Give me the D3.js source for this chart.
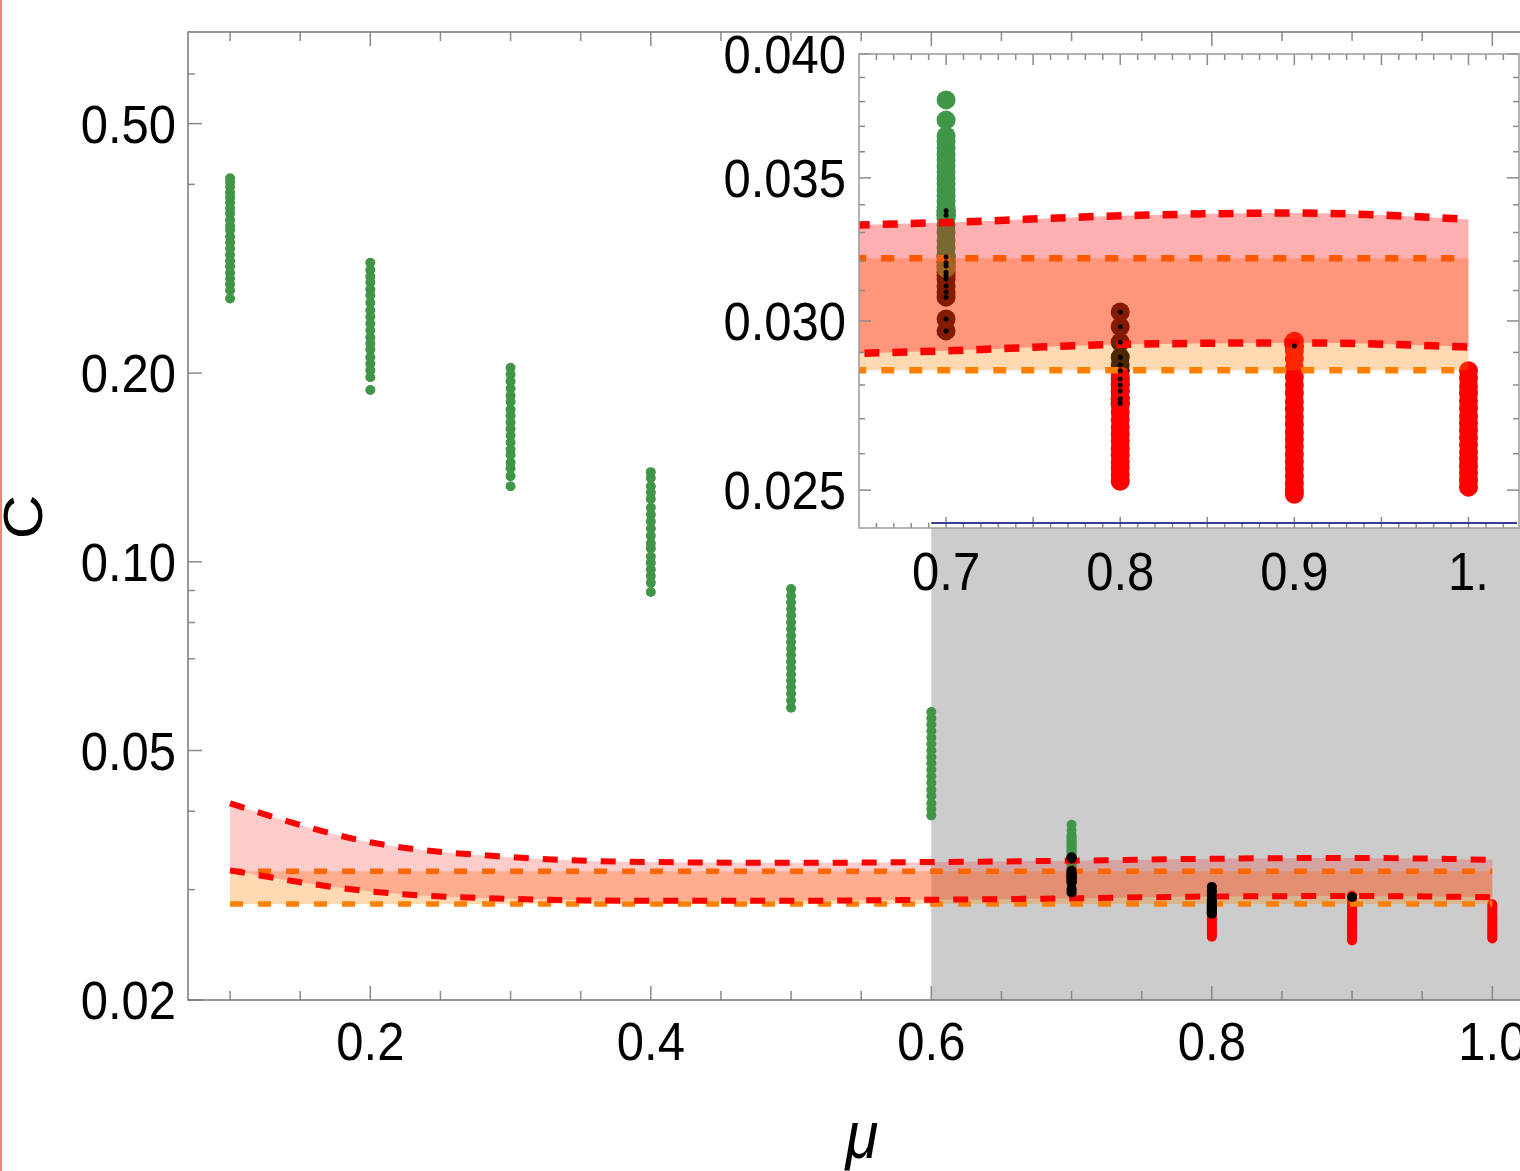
<!DOCTYPE html>
<html>
<head>
<meta charset="utf-8">
<script src="https://cdn.jsdelivr.net/npm/d3@7"></script>
<style>
body{margin:0;background:#fff;}
text{font-family:"Liberation Sans",Arial,sans-serif;fill:#000;}
</style>
</head>
<body>
<svg id="chart" width="1520" height="1171"></svg>
<script>
// bands (mu, C)
var muBand = [0.1, 0.2, 0.3, 0.4, 0.5, 0.6, 0.7, 0.8, 0.9, 1.0];
var redUpper = [0.0412, 0.0357, 0.0338, 0.0332, 0.0331, 0.0332, 0.03336, 0.0336, 0.0337, 0.03347];
var redLower = [0.0322, 0.0298, 0.0290, 0.0288, 0.0288, 0.0289, 0.02905, 0.02925, 0.0293, 0.02917];
var orangeUpper = [0.0321, 0.0321, 0.0321, 0.0321, 0.0321, 0.0321, 0.0321, 0.0321, 0.0321, 0.0321];
var orangeLower = [0.02845, 0.02845, 0.02845, 0.02845, 0.02845, 0.02845, 0.02845, 0.02845, 0.02845, 0.02845];

// point clusters
var greenMu = [0.1, 0.2, 0.3, 0.4, 0.5, 0.6, 0.7];
var greenC = [
  [0.409, 0.403, 0.396, 0.388, 0.381, 0.374, 0.366, 0.359, 0.351, 0.344, 0.338, 0.330, 0.323, 0.316, 0.309, 0.302, 0.296, 0.289, 0.283, 0.277, 0.271, 0.263],
  [0.300, 0.292, 0.285, 0.279, 0.272, 0.266, 0.259, 0.252, 0.246, 0.240, 0.234, 0.228, 0.223, 0.218, 0.212, 0.207, 0.202, 0.197, 0.188],
  [0.204, 0.199, 0.194, 0.189, 0.184, 0.180, 0.175, 0.171, 0.167, 0.163, 0.159, 0.155, 0.151, 0.148, 0.144, 0.141, 0.137, 0.132],
  [0.139, 0.136, 0.132, 0.129, 0.126, 0.122, 0.119, 0.116, 0.113, 0.110, 0.107, 0.105, 0.102, 0.0996, 0.0972, 0.0949, 0.0926, 0.0895],
  [0.0905, 0.0883, 0.0862, 0.0841, 0.0821, 0.0801, 0.0782, 0.0763, 0.0745, 0.0727, 0.0710, 0.0693, 0.0677, 0.0661, 0.0646, 0.0631, 0.0616, 0.0601, 0.0585],
  [0.0576, 0.0563, 0.0550, 0.0537, 0.0524, 0.0512, 0.0500, 0.0488, 0.0477, 0.0466, 0.0455, 0.0444, 0.0433, 0.0423, 0.0412, 0.0403, 0.0394],
  [0.03807, 0.03725, 0.03662, 0.03640, 0.03615, 0.03590, 0.03568, 0.03545, 0.03522, 0.03500, 0.03478, 0.03455, 0.03433, 0.03412, 0.03390, 0.03370, 0.03350, 0.03325, 0.03300, 0.03272, 0.03245, 0.03222, 0.03200, 0.03175]
];
var blackMu = [0.7, 0.8, 0.9];
var blackC = [
  [0.03378, 0.03362, 0.03214, 0.03195, 0.03183, 0.03162, 0.03150, 0.03139, 0.03115, 0.03095, 0.03078, 0.03006, 0.02968],
  [0.03029, 0.02981, 0.02932, 0.02885, 0.02861, 0.02843, 0.02818, 0.02800, 0.02782, 0.02759, 0.02745],
  [0.02920]
];
var redMu = [0.8, 0.9, 1.0];
var redC = [
  [0.02827, 0.02805, 0.02785, 0.02762, 0.02740, 0.02718, 0.02697, 0.02676, 0.02655, 0.02635, 0.02615, 0.02596, 0.02577, 0.02560, 0.02542, 0.02524],
  [0.02935, 0.02905, 0.02880, 0.02852, 0.02825, 0.02800, 0.02775, 0.02750, 0.02728, 0.02705, 0.02683, 0.02660, 0.02640, 0.02620, 0.02598, 0.02578, 0.02558, 0.02538, 0.02518, 0.02500, 0.02489],
  [0.02843, 0.02820, 0.02797, 0.02775, 0.02752, 0.02730, 0.02708, 0.02687, 0.02666, 0.02645, 0.02625, 0.02605, 0.02585, 0.02565, 0.02546, 0.02527, 0.02508]
];

// grey region (mu from, C top)
var greyMu = 0.6, greyTop = 0.1153;

// ticks
var mainXLabels = [0.2, 0.4, 0.6, 0.8, 1.0];
var mainXText = ["0.2", "0.4", "0.6", "0.8", "1.0"];
var mainYLabels = [0.02, 0.05, 0.1, 0.2, 0.5];
var mainYText = ["0.02", "0.05", "0.10", "0.20", "0.50"];
var mainYMinor = [0.03, 0.04, 0.07, 0.08, 0.09, 0.4, 0.6];
var insXLabels = [0.7, 0.8, 0.9, 1.0];
var insXText = ["0.7", "0.8", "0.9", "1."];
var insYLabels = [0.025, 0.030, 0.035, 0.040];
var insYText = ["0.025", "0.030", "0.035", "0.040"];

var svg = d3.select("#chart");
var green = "#419547";

var xMain = d3.scaleLinear().domain([0.07, 1.03]).range([188, 1534.4]);
var yMain = d3.scaleLog().domain([0.02, 0.70]).range([1000, 32]);
var xIn = d3.scaleLinear().domain([0.65, 1.029]).range([859, 1519]);
var yIn = d3.scaleLog().domain([0.024, 0.040]).range([528, 54]);

function pts(mu, cs){
    var out = [];
    mu.forEach(function(m, i){ cs[i].forEach(function(c){ out.push([m, c]); }); });
    return out;
}

function label(g, x, y, str, anchor, size, italic){
    var t = g.append("text")
        .attr("transform", "translate(" + x + "," + y + ") scale(1,1.1)")
        .attr("text-anchor", anchor)
        .style("font-size", size + "px")
        .text(str);
    if (italic) t.style("font-style", "italic");
    return t;
}

function drawPanel(g, x, y, o){
    var circ = function(data, col, r){
        g.append("g").selectAll("circle").data(data).enter().append("circle")
            .attr("cx", function(d){ return x(d[0]); })
            .attr("cy", function(d){ return y(d[1]); })
            .attr("r", r)
            .attr("fill", col);
    };
    circ(pts(blackMu, blackC), "#000", o.r);
    circ(pts(greenMu, greenC), green, o.r);
    circ(pts(redMu, redC), "#ff0000", o.r);

    var idx = d3.range(muBand.length);
    var oArea = d3.area().x(function(i){ return x(muBand[i]); })
        .y0(function(i){ return y(orangeLower[i]); })
        .y1(function(i){ return y(orangeUpper[i]); });
    g.append("path").attr("d", oArea(idx)).attr("fill", "#ff8000").attr("fill-opacity", 0.3);
    [orangeUpper, orangeLower].forEach(function(arr){
        var ln = d3.line().x(function(i){ return x(muBand[i]); }).y(function(i){ return y(arr[i]); });
        g.append("path").attr("d", ln(idx)).attr("fill", "none")
            .attr("stroke", "#ff8000").attr("stroke-width", o.ow)
            .attr("stroke-dasharray", o.od);
    });

    var rArea = d3.area().curve(d3.curveMonotoneX).x(function(i){ return x(muBand[i]); })
        .y0(function(i){ return y(redLower[i]); })
        .y1(function(i){ return y(redUpper[i]); });
    g.append("path").attr("d", rArea(idx)).attr("fill", "#ff0000").attr("fill-opacity", o.ra);
    [redUpper, redLower].forEach(function(arr){
        var ln = d3.line().curve(d3.curveMonotoneX).x(function(i){ return x(muBand[i]); }).y(function(i){ return y(arr[i]); });
        g.append("path").attr("d", ln(idx)).attr("fill", "none")
            .attr("stroke", "#ff0000").attr("stroke-width", o.rw)
            .attr("stroke-dasharray", o.rd);
    });

    circ(pts(blackMu, blackC), "#000", o.dotR);
}

// red edge line at far left
svg.append("line").attr("x1", 1).attr("x2", 1).attr("y1", 0).attr("y2", 1171)
    .attr("stroke", "#ff8080").attr("stroke-width", 2);

// ---------- main plot ----------
var defs = svg.append("defs");
defs.append("clipPath").attr("id", "clipMain").append("rect")
    .attr("x", 188).attr("y", 32).attr("width", 1346).attr("height", 968);
defs.append("clipPath").attr("id", "clipIn").append("rect")
    .attr("x", 859).attr("y", 54).attr("width", 660).attr("height", 474);

var main = svg.append("g");
var mainData = main.append("g").attr("clip-path", "url(#clipMain)");
mainData.append("rect")
    .attr("x", xMain(greyMu)).attr("y", yMain(greyTop))
    .attr("width", xMain(1.03) - xMain(greyMu))
    .attr("height", yMain(0.02) - yMain(greyTop))
    .attr("fill", "#cccccc");
drawPanel(mainData, xMain, yMain, {r: 5, dotR: 5, ra: 0.2, rw: 6, ow: 5.5, rd: "15,14", od: "13,15"});

var tk = main.append("g").attr("stroke", "#8a8a8a").attr("stroke-width", 1.5);
var xMinorMain = d3.range(0.1, 1.03, 0.05);
xMinorMain.forEach(function(v){
    var big = Math.abs(v * 5 - Math.round(v * 5)) < 1e-6;
    var L = big ? 14 : 9;
    tk.append("line").attr("x1", xMain(v)).attr("x2", xMain(v)).attr("y1", 1000).attr("y2", 1000 - L);
    tk.append("line").attr("x1", xMain(v)).attr("x2", xMain(v)).attr("y1", 32).attr("y2", 32 + L);
});
mainYLabels.forEach(function(v){
    tk.append("line").attr("x1", 188).attr("x2", 202).attr("y1", yMain(v)).attr("y2", yMain(v));
});
mainYMinor.forEach(function(v){
    tk.append("line").attr("x1", 188).attr("x2", 195).attr("y1", yMain(v)).attr("y2", yMain(v));
});
main.append("path").attr("d", "M1534,32H188V1000H1534")
    .attr("fill", "none").attr("stroke", "#777").attr("stroke-width", 1.5);

mainXLabels.forEach(function(v, i){ label(main, xMain(v), 1060, mainXText[i], "middle", 49); });
mainYLabels.forEach(function(v, i){ label(main, 176, yMain(v) + 19, mainYText[i], "end", 49); });

// ---------- inset ----------
var ins = svg.append("g");
ins.append("rect").attr("x", 859).attr("y", 54).attr("width", 661).attr("height", 474).attr("fill", "#fff");
var insData = ins.append("g").attr("clip-path", "url(#clipIn)");
drawPanel(insData, xIn, yIn, {r: 9.5, dotR: 2.5, ra: 0.31, rw: 7.5, ow: 6.5, rd: "15,13", od: "13,15"});

var tk2 = ins.append("g").attr("stroke", "#8a8a8a").attr("stroke-width", 1.5);
d3.range(0.66, 1.025, 0.01).forEach(function(v){
    var big = Math.abs(v * 20 - Math.round(v * 20)) < 1e-6;
    var L = big ? 11 : 6;
    tk2.append("line").attr("x1", xIn(v)).attr("x2", xIn(v)).attr("y1", 54).attr("y2", 54 + L);
    tk2.append("line").attr("x1", xIn(v)).attr("x2", xIn(v)).attr("y1", 528).attr("y2", 528 - (big ? 11 : 5));
});
d3.range(0.025, 0.0401, 0.001).forEach(function(v){
    var big = Math.abs(v * 200 - Math.round(v * 200)) < 1e-6;
    var L = big ? 12 : 6;
    tk2.append("line").attr("x1", 859).attr("x2", 859 + L).attr("y1", yIn(v)).attr("y2", yIn(v));
    tk2.append("line").attr("x1", 1519).attr("x2", 1519 - L).attr("y1", yIn(v)).attr("y2", yIn(v));
});
ins.append("rect").attr("x", 859).attr("y", 54).attr("width", 660).attr("height", 474)
    .attr("fill", "none").attr("stroke", "#9a9a9a").attr("stroke-width", 1.5);

insXLabels.forEach(function(v, i){ label(ins, xIn(v), 590, insXText[i], "middle", 49); });
insYLabels.forEach(function(v, i){ label(ins, 846, yIn(v) + 19, insYText[i], "end", 49); });

// blue top edge of grey region
svg.append("line").attr("x1", xMain(greyMu)).attr("x2", 1517)
    .attr("y1", yMain(greyTop)).attr("y2", yMain(greyTop))
    .attr("stroke", "#3b3b96").attr("stroke-width", 2);

// axis titles
label(svg, 862, 1158, "\u03bc", "middle", 60, true);
svg.append("text")
    .attr("transform", "translate(42,517) rotate(-90) scale(1.1,1)")
    .attr("text-anchor", "middle")
    .style("font-size", "56px")
    .text("C");
</script>
</body>
</html>
